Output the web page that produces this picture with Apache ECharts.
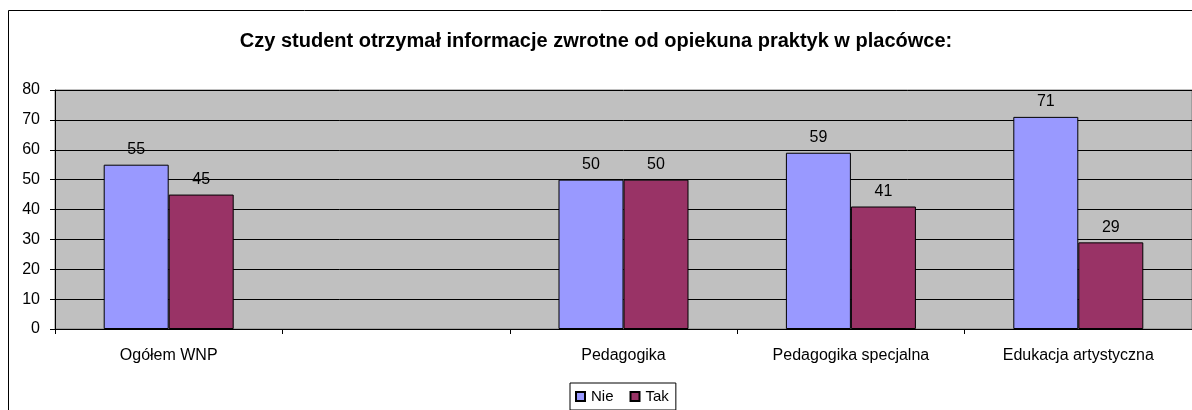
<!DOCTYPE html>
<html>
<head>
<meta charset="utf-8">
<script src="https://cdn.jsdelivr.net/npm/echarts@6/dist/echarts.min.js"></script>
<style>
  html, body { margin: 0; padding: 0; background: #ffffff; }
  #chart { width: 1192px; height: 410px; }
</style>
</head>
<body>
<div id="chart"></div>
<script>
// Categories (the second one is an empty slot on the axis)
const categories = ['Ogółem WNP', '', 'Pedagogika', 'Pedagogika specjalna', 'Edukacja artystyczna'];
// Percent answering "Nie" / "Tak"
const nieValues = [55, null, 50, 59, 71];
const takValues = [45, null, 50, 41, 29];
const yTicks = [0, 10, 20, 30, 40, 50, 60, 70, 80];

const FONT = '"Liberation Sans", Arial, sans-serif';

const chart = echarts.init(document.getElementById('chart'), null, { renderer: 'canvas' });

const labelStyle = {
  show: true,
  position: 'top',
  distance: 7,
  color: '#000',
  fontFamily: FONT,
  fontSize: 16
};

chart.setOption({
  animation: false,
  backgroundColor: '#ffffff',
  graphic: [{
    type: 'rect',
    shape: { x: 8.5, y: 10.5, width: 1200, height: 420 },
    style: { fill: 'none', stroke: '#000', lineWidth: 1 },
    silent: true,
    z: -10
  }],
  title: {
    text: 'Czy student otrzymał informacje zwrotne od opiekuna praktyk w placówce:',
    left: 'center',
    top: 26,
    textStyle: { fontFamily: FONT, fontWeight: 'bold', fontSize: 20, color: '#000' }
  },
  legend: {
    left: 570,
    top: 383,
    itemWidth: 9,
    itemHeight: 9,
    itemGap: 16,
    padding: [6, 7, 6, 5],
    borderColor: '#000',
    borderWidth: 1,
    backgroundColor: '#fff',
    icon: 'rect',
    textStyle: { fontFamily: FONT, fontSize: 15, color: '#000', padding: [0, 0, 0, 1] },
    data: ['Nie', 'Tak']
  },
  grid: {
    left: 55,
    top: 90,
    width: 1137,
    height: 239,
    show: true,
    backgroundColor: '#c0c0c0',
    borderColor: '#808080',
    borderWidth: 1
  },
  xAxis: {
    type: 'category',
    data: categories,
    axisLine: { show: true, lineStyle: { color: '#000', width: 1 } },
    axisTick: { show: true, length: 5, interval: 0, lineStyle: { color: '#000' } },
    axisLabel: { interval: 0, margin: 19, color: '#000', fontFamily: FONT, fontSize: 16 },
    splitLine: { show: false }
  },
  yAxis: {
    type: 'value',
    min: yTicks[0],
    max: yTicks[yTicks.length - 1],
    interval: 10,
    axisLine: { show: true, lineStyle: { color: '#000', width: 1 } },
    axisTick: { show: true, length: 5, lineStyle: { color: '#000' } },
    axisLabel: { margin: 15, color: '#000', fontFamily: FONT, fontSize: 16 },
    splitLine: { show: true, lineStyle: { color: '#000', width: 1 } }
  },
  series: [
    {
      name: 'Nie',
      type: 'bar',
      data: nieValues,
      barWidth: 65,
      barGap: '0%',
      itemStyle: { color: '#9999ff', borderColor: '#000', borderWidth: 1 },
      label: labelStyle
    },
    {
      name: 'Tak',
      type: 'bar',
      data: takValues,
      barWidth: 65,
      barGap: '0%',
      itemStyle: { color: '#993366', borderColor: '#000', borderWidth: 1 },
      label: labelStyle
    }
  ]
});
</script>
</body>
</html>
